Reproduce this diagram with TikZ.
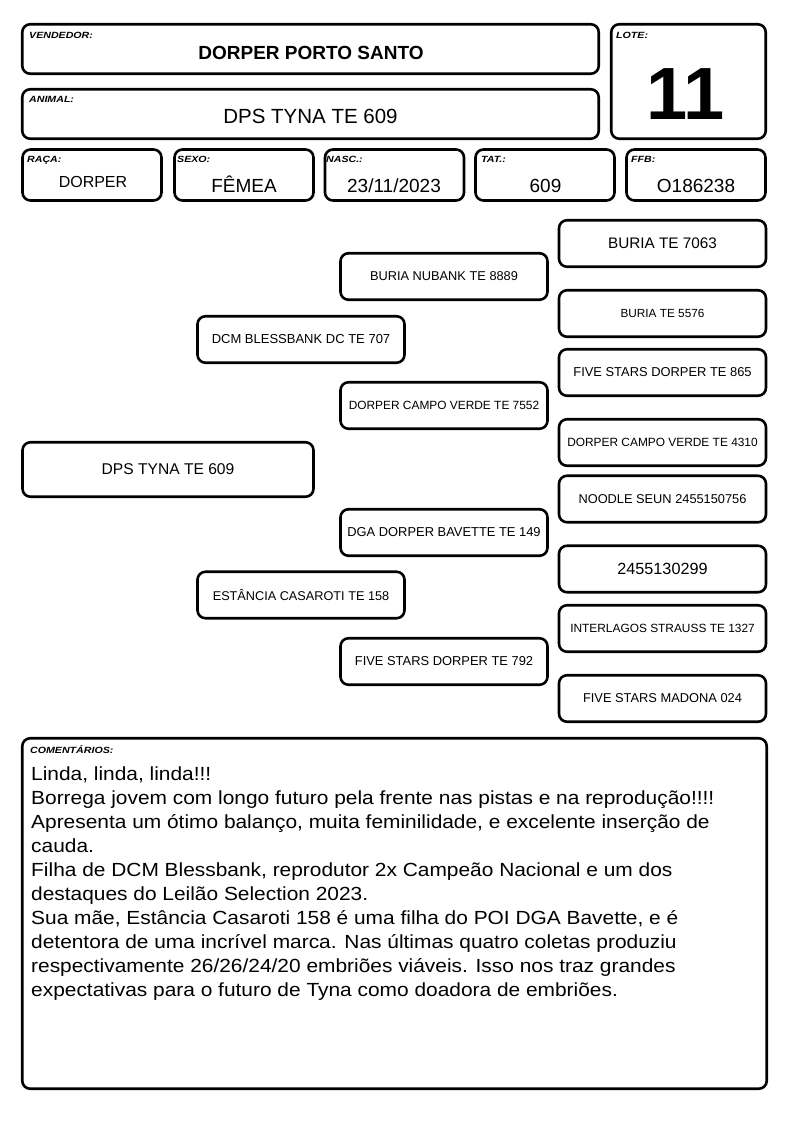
\documentclass[tikz,border=0pt]{standalone}
\usepackage{fontspec}
\setmainfont{Liberation Sans}
\newfontfamily\lblfont[FakeStretch=1.18]{Liberation Sans}
\newfontfamily\cmtfont[FakeStretch=1.1]{Liberation Sans}
\newcommand{\pfs}[1]{\fontsize{#1}{#1}\selectfont}

\begin{document}
\begin{tikzpicture}[x=1pt,y=-1pt,join=round,
    box/.style={draw,line width=2.6pt,rounded corners=8pt,inner sep=0pt},
    infobox/.style={box,minimum width=139pt,minimum height=51pt},
    ped/.style={box,minimum width=207pt,minimum height=46.5pt},
    lbl/.style={anchor=base west,inner sep=0pt,font=\lblfont\pfs{9}\bfseries\itshape},
    val/.style={anchor=base,inner sep=0pt,font=\pfs{19}}]
  \useasboundingbox (0,0) rectangle (794,1123);

  % header
  \node[box,minimum width=576.5pt,minimum height=49.5pt] (vendedor) at (310.5,49) {};
  \node[box,minimum width=576.5pt,minimum height=49.5pt] (animal) at (310.5,114) {};
  \node[box,minimum width=154.5pt,minimum height=114.5pt] (lote) at (688.5,81.5) {};
  \node[infobox] (raca) at (92,175) {};
  \node[infobox] (sexo) at (244,175) {};
  \node[infobox] (nasc) at (394.5,175) {};
  \node[infobox] (tat) at (545,175) {};
  \node[infobox] (ffb) at (696,175) {};

  \node[lbl] (lvendedor) at (29,38.3) {VENDEDOR:};
  \node[lbl] (lanimal) at (29,102.5) {ANIMAL:};
  \node[lbl] (llote) at (616,38.3) {LOTE:};
  \node[lbl] (lraca) at (27,163) {RAÇA:};
  \node[lbl] (lsexo) at (177,163) {SEXO:};
  \node[lbl] (lnasc) at (326,163) {NASC.:};
  \node[lbl] (ltat) at (481,163) {TAT.:};
  \node[lbl] (lffb) at (631,163) {FFB:};

  \node[val,font=\pfs{19}\bfseries] (tvendedor) at (311,60) {DORPER PORTO SANTO};
  \node[val,font=\pfs{20.5}] (tanimal) at (310.5,123.5) {DPS TYNA TE 609};
  \node[val,font=\pfs{74}\bfseries] (tlote) at (686,120) {11};
  \node[val,font=\pfs{16}] (traca) at (93,188) {DORPER};
  \node[val] (tsexo) at (244,193) {FÊMEA};
  \node[val] (tnasc) at (394,193) {23/11/2023};
  \node[val] (ttat) at (545.5,193) {609};
  \node[val] (tffb) at (696,193) {O186238};

  % pedigree
  \node[box,minimum width=291pt,minimum height=54.5pt,font=\pfs{15.6}] (tyna) at (168,469.5) {DPS TYNA TE 609};
  \node[ped,font=\pfs{13}] (pai) at (301,339.5) {DCM BLESSBANK DC TE 707};
  \node[ped,font=\pfs{12.7}] (mae) at (301,595) {ESTÂNCIA CASAROTI TE 158};
  \node[ped,font=\pfs{12.8}] (avpp) at (444,276.5) {BURIA NUBANK TE 8889};
  \node[ped,font=\pfs{11.9}] (avpm) at (444,405.5) {DORPER CAMPO VERDE TE 7552};
  \node[ped,font=\pfs{12.9}] (avmp) at (444,532.5) {DGA DORPER BAVETTE TE 149};
  \node[ped,font=\pfs{12.9}] (avmm) at (444,661.5) {FIVE STARS DORPER TE 792};
  \node[ped,font=\pfs{15.3}] (b1) at (662.5,243.5) {BURIA TE 7063};
  \node[ped,font=\pfs{11.8}] (b2) at (662.5,313.5) {BURIA TE 5576};
  \node[ped,font=\pfs{12.9}] (b3) at (662.5,372.5) {FIVE STARS DORPER TE 865};
  \node[ped,font=\pfs{11.9}] (b4) at (662.5,442.5) {DORPER CAMPO VERDE TE 4310};
  \node[ped,font=\pfs{12.8}] (b5) at (662.5,499) {NOODLE SEUN 2455150756};
  \node[ped,font=\pfs{16.2}] (b6) at (662.5,569) {2455130299};
  \node[ped,font=\pfs{11.9}] (b7) at (662.5,628.5) {INTERLAGOS STRAUSS TE 1327};
  \node[ped,font=\pfs{12.85}] (b8) at (662.5,698.5) {FIVE STARS MADONA 024};

  % comentarios
  \node[box,minimum width=744.5pt,minimum height=350.5pt] (coment) at (394.5,913.5) {};
  \node[lbl] (lcoment) at (30,753) {COMENTÁRIOS:};
  \node[anchor=base west,inner sep=0pt,align=left,font=\cmtfont\fontsize{19}{24.1}\selectfont] (tcoment) at (31,996.9)
    {Linda, linda, linda!!!\\
     Borrega jovem com longo futuro pela frente nas pistas e na reprodução!!!!\\
     Apresenta um ótimo balanço, muita feminilidade, e excelente inserção de\\
     cauda.\\
     Filha de DCM Blessbank, reprodutor 2x Campeão Nacional e um dos\\
     destaques do Leilão Selection 2023.\\
     Sua mãe, Estância Casaroti 158 é uma filha do POI DGA Bavette, e é\\
     detentora de uma incrível marca. Nas últimas quatro coletas produziu\\
     respectivamente 26/26/24/20 embriões viáveis. Isso nos traz grandes\\
     expectativas para o futuro de Tyna como doadora de embriões.};
\end{tikzpicture}
\end{document}
